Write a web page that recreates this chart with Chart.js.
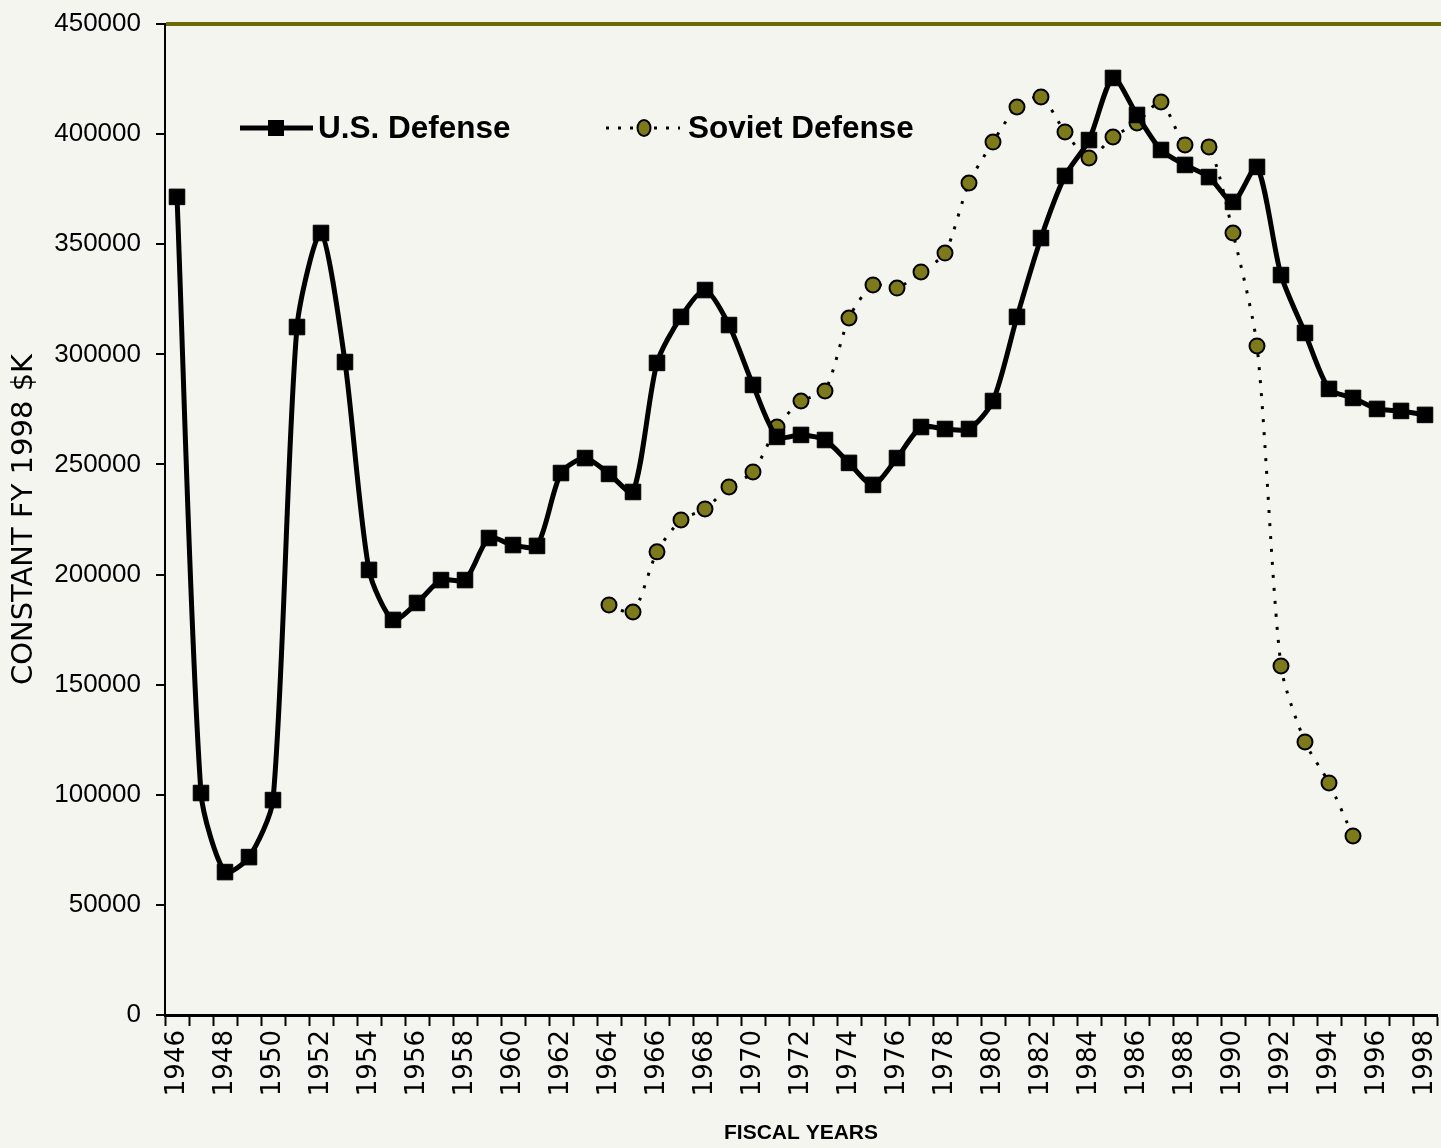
<!DOCTYPE html>
<html>
<head>
<meta charset="utf-8">
<script src="https://cdn.jsdelivr.net/npm/chart.js@4"></script>
<style>
  html, body { margin: 0; padding: 0; background: #f5f5f0; overflow: hidden; }
  #wrap { width: 1449px; height: 1148px; }
</style>
</head>
<body>
<div id="wrap"><canvas id="myChart" width="1449" height="1148"></canvas></div>
<script>
var years = ["1946","1947","1948","1949","1950","1951","1952","1953","1954","1955",
    "1956","1957","1958","1959","1960","1961","1962","1963","1964","1965",
    "1966","1967","1968","1969","1970","1971","1972","1973","1974","1975",
    "1976","1977","1978","1979","1980","1981","1982","1983","1984","1985",
    "1986","1987","1988","1989","1990","1991","1992","1993","1994","1995",
    "1996","1997","1998"]

var usDefense = [371500, 100800, 64900, 71700, 97600, 312400, 355100, 296500, 202100, 179400,
    187100, 197500, 197500, 216600, 213400, 213000, 246100, 252900, 245700, 237500,
    296100, 317000, 329200, 313300, 286100, 262500, 263400, 261100, 250700, 240700,
    252900, 267000, 266100, 266100, 278800, 317000, 352800, 381000, 397300, 425500,
    408700, 392800, 386000, 380500, 369200, 385100, 336000, 309700, 284300, 280200,
    275200, 274300, 272500]

var sovietDefense = [null, null, null, null, null, null, null, null, null, null,
    null, null, null, null, null, null, null, null, 186200, 183000,
    210300, 224800, 229800, 239800, 246600, 267000, 278800, 283400, 316500, 331500,
    330100, 337400, 346000, 377800, 396400, 412300, 416900, 401000, 389200, 398700,
    405100, 414600, 395100, 394200, 355100, 303800, 158500, 124000, 105400, 81300,
    null, null, null]

var yTicks = [0, 50000, 100000, 150000, 200000, 250000, 300000, 350000, 400000, 450000]

var seriesNames = ["U.S. Defense", "Soviet Defense"]

// legend drawn inside the plot, like the original
var legendInside = {
    id: "legendInside",
    afterDatasetsDraw: function (chart) {
        var ctx = chart.ctx
        ctx.save()
        var y = 128
        // U.S.
        ctx.strokeStyle = "#000"
        ctx.lineWidth = 5
        ctx.beginPath()
        ctx.moveTo(240, y)
        ctx.lineTo(313, y)
        ctx.stroke()
        ctx.fillStyle = "#000"
        ctx.fillRect(268, y - 8, 16, 16)
        ctx.font = "bold 31.5px 'Liberation Sans'"
        ctx.textBaseline = "middle"
        ctx.fillText(seriesNames[0], 318, y + 1)
        // Soviet
        ctx.lineWidth = 3
        ctx.setLineDash([3, 9])
        ctx.beginPath()
        ctx.moveTo(606, y)
        ctx.lineTo(680, y)
        ctx.stroke()
        ctx.setLineDash([])
        ctx.beginPath()
        ctx.ellipse(644, y, 6.5, 8, 0, 0, Math.PI * 2)
        ctx.fillStyle = "#7d7a1c"
        ctx.fill()
        ctx.lineWidth = 2
        ctx.stroke()
        ctx.fillStyle = "#000"
        ctx.fillText(seriesNames[1], 688, y + 1)
        // top rule runs to the edge
        ctx.strokeStyle = "#6e6a08"
        ctx.lineWidth = 4
        ctx.beginPath()
        ctx.moveTo(chart.chartArea.right, chart.chartArea.top)
        ctx.lineTo(chart.width, chart.chartArea.top)
        ctx.stroke()
        ctx.restore()
    }
}

var myCharts = document.getElementById("myChart").getContext("2d")
var chart = new Chart(myCharts, {
    type: "line",
    data: {
        labels: years,
        datasets: [
            {
                label: seriesNames[0],
                data: usDefense,
                borderColor: "#000",
                backgroundColor: "#000",
                borderWidth: 5,
                tension: 0.25,
                pointStyle: "rect",
                pointRadius: 11,
                pointBorderWidth: 1,
                pointBorderColor: "#000",
                pointBackgroundColor: "#000"
            },
            {
                label: seriesNames[1],
                data: sovietDefense,
                borderColor: "#000",
                borderWidth: 3,
                borderDash: [3, 10],
                tension: 0.25,
                spanGaps: false,
                pointStyle: "circle",
                pointRadius: 7.5,
                pointBorderWidth: 2,
                pointBorderColor: "#000",
                pointBackgroundColor: "#7d7a1c"
            }
        ]
    },
    options: {
        responsive: false,
        animation: false,
        layout: { padding: { top: 24, right: 0, left: 0, bottom: 0 } },
        plugins: {
            legend: { display: false },
            tooltip: { enabled: false }
        },
        scales: {
            x: {
                type: "category",
                offset: true,
                grid: {
                    offset: true,
                    drawOnChartArea: false,
                    color: "#000",
                    tickLength: 11,
                    tickWidth: 2
                },
                border: { color: "#000", width: 3 },
                ticks: {
                    autoSkip: false,
                    minRotation: 90,
                    maxRotation: 90,
                    padding: 4,
                    color: "#000",
                    font: { family: "'DejaVu Sans'", size: 26 },
                    callback: function (value, index) {
                        return index % 2 === 0 ? years[index] : ""
                    }
                },
                title: {
                    display: true,
                    text: "FISCAL YEARS",
                    color: "#000",
                    font: { family: "'Liberation Sans'", size: 21, weight: "bold" },
                    padding: { top: 0, bottom: 2 }
                },
                afterFit: function (scale) {
                    scale.height = 133
                    scale.paddingLeft = 0
                    scale.paddingRight = 0
                }
            },
            y: {
                min: 0,
                max: 450000,
                afterBuildTicks: function (scale) {
                    scale.ticks = yTicks.map(function (v) { return { value: v } })
                },
                grid: {
                    drawOnChartArea: true,
                    color: function (c) {
                        return c.tick && c.tick.value === 450000 ? "#6e6a08" : "rgba(0,0,0,0)"
                    },
                    lineWidth: 4,
                    tickColor: "#000",
                    tickLength: 9,
                    tickWidth: 2
                },
                border: { color: "#000", width: 2 },
                ticks: {
                    padding: 15,
                    color: "#000",
                    font: { family: "'Liberation Sans'", size: 26 },
                    callback: function (v) { return String(v) }
                },
                title: {
                    display: true,
                    text: "CONSTANT FY 1998 $K",
                    color: "#000",
                    font: { family: "'DejaVu Sans'", size: 29 },
                    padding: { top: 7, bottom: 0 }
                },
                afterFit: function (scale) {
                    scale.width = 165
                    scale.paddingTop = 0
                    scale.paddingBottom = 0
                }
            }
        }
    },
    plugins: [legendInside]
})
</script>
</body>
</html>
